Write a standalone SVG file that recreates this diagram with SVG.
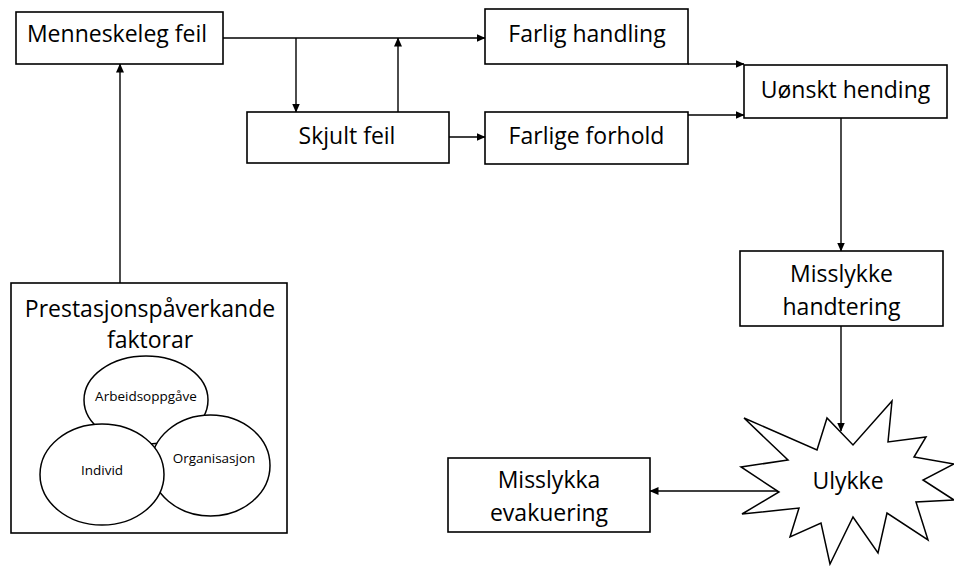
<svg xmlns="http://www.w3.org/2000/svg" width="954" height="566" viewBox="0 0 954 566">
  <style>
    .box { fill: #ffffff; stroke: #000000; stroke-width: 1.6; }
    .shape { fill: #ffffff; stroke: #000000; stroke-width: 1.5; }
    .lbl { font-family: "Open Sans", "Noto Sans", sans-serif; font-size: 23px; fill: #000000; text-anchor: middle; }
    .small { font-family: "Open Sans", "Noto Sans", sans-serif; font-size: 13.5px; fill: #000000; text-anchor: middle; }
    .conn { fill: none; stroke: #000000; stroke-width: 1.4; marker-end: url(#arrow); }
  </style>
  <defs>
    <marker id="arrow" markerUnits="userSpaceOnUse" markerWidth="9" markerHeight="8" refX="8.5" refY="4" orient="auto">
      <path d="M0,0 L9,4 L0,8 z" fill="#000000"/>
    </marker>
  </defs>

  <!-- connectors -->
  <g id="connectors">
    <path class="conn" d="M223,38 H485"/>
    <path class="conn" d="M296,38 V112"/>
    <path class="conn" d="M398,112 V38"/>
    <path class="conn" d="M449,137 H485"/>
    <path class="conn" d="M688,64 H744"/>
    <path class="conn" d="M688,115 H744"/>
    <path class="conn" d="M841,118 V251"/>
    <path class="conn" d="M841,326 V431"/>
    <path class="conn" d="M779,491 H650"/>
    <path class="conn" d="M120,283 V64"/>
  </g>

  <g id="menneskeleg-feil">
    <rect class="box" x="16" y="12" width="207" height="52"/>
    <text class="lbl" x="117" y="42">Menneskeleg feil</text>
  </g>

  <g id="farlig-handling">
    <rect class="box" x="485" y="9" width="203" height="55"/>
    <text class="lbl" x="587" y="42">Farlig handling</text>
  </g>

  <g id="skjult-feil">
    <rect class="box" x="247" y="112" width="202" height="51"/>
    <text class="lbl" x="347" y="144">Skjult feil</text>
  </g>

  <g id="farlige-forhold">
    <rect class="box" x="485" y="112" width="203" height="52"/>
    <text class="lbl" x="586.5" y="143.5">Farlige forhold</text>
  </g>

  <g id="uonskt-hending">
    <rect class="box" x="744" y="65" width="203" height="53"/>
    <text class="lbl" x="845.5" y="97.5">Uønskt hending</text>
  </g>

  <g id="misslykke-handtering">
    <rect class="box" x="740" y="251" width="203" height="75"/>
    <text class="lbl" x="841.5" y="282">Misslykke</text>
    <text class="lbl" x="841.5" y="315">handtering</text>
  </g>

  <g id="ulykke">
    <polygon class="shape" points="744,418 817,450 827,418 853,445 892,401 888,442 926,437 914,457 954,464 923,480 954,500 916,502 928,540 887,513 878,553 853,517 830,564 821,523 790,537 799,508 742,514 779,492 741,467 788,460"/>
    <text class="lbl" x="848" y="489">Ulykke</text>
  </g>

  <g id="misslykka-evakuering">
    <rect class="box" x="448" y="458" width="202" height="74"/>
    <text class="lbl" x="549" y="488">Misslykka</text>
    <text class="lbl" x="549" y="521">evakuering</text>
  </g>

  <g id="prestasjonspaverkande-faktorar">
    <rect class="box" x="11" y="283" width="276" height="250"/>
    <text class="lbl" x="150" y="317">Prestasjonspåverkande</text>
    <text class="lbl" x="150" y="348">faktorar</text>
    <ellipse class="shape" cx="146" cy="400" rx="62" ry="44"/>
    <ellipse class="shape" cx="210.5" cy="465.5" rx="59.5" ry="50.5"/>
    <ellipse class="shape" cx="102" cy="474.5" rx="62" ry="50.5"/>
    <text class="small" x="146" y="401">Arbeidsoppgåve</text>
    <text class="small" x="214" y="463">Organisasjon</text>
    <text class="small" x="102" y="475">Individ</text>
  </g>
</svg>
